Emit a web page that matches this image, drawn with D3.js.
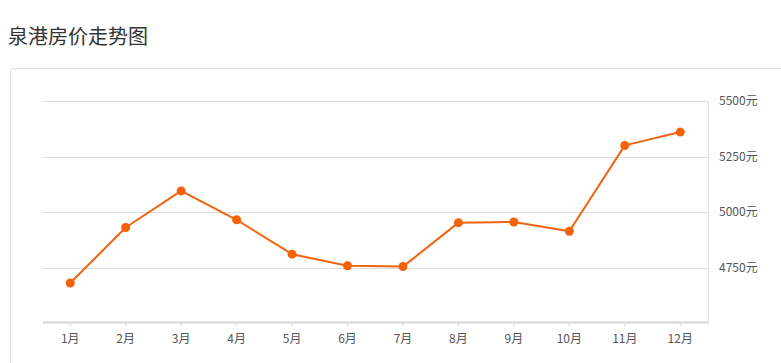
<!DOCTYPE html>
<html>
<head>
<meta charset="utf-8">
<script src="https://cdn.jsdelivr.net/npm/d3@7"></script>
<style>
  body { margin: 0; background: #fff; font-family: "Noto Sans CJK SC", "Noto Sans", sans-serif; }
  #title { position: absolute; left: 8px; top: 22px; font-size: 20px; color: #333; line-height: 28px; }
  #card { position: absolute; left: 10px; top: 68px; width: 790px; height: 320px;
          border: 1px solid #ddd; border-radius: 4px; box-sizing: border-box; }
  svg { position: absolute; left: 0; top: 0; }
</style>
</head>
<body>
<div id="title">泉港房价走势图</div>
<div id="card"></div>
<svg id="chart" width="781" height="363"></svg>
<script>
var months = ["1月","2月","3月","4月","5月","6月","7月","8月","9月","10月","11月","12月"]
var prices = [4680, 4930, 5095, 4965, 4810, 4758, 4754, 4952, 4955, 4913, 5300, 5360]
var yTicks = [4750, 5000, 5250, 5500]

var svg = d3.select("#chart")
var plotLeft = 42.5, plotRight = 708, plotTop = 101, plotBottom = 323

var x = d3.scaleBand().domain(months).range([plotLeft, plotRight])
var y = d3.scaleLinear().domain([4500, 5500]).range([plotBottom, plotTop])
var cx = d => x(d) + x.bandwidth() / 2

// grid lines
svg.append("g")
  .selectAll("line")
  .data(yTicks)
  .enter()
  .append("line")
  .attr("x1", plotLeft).attr("x2", plotRight)
  .attr("y1", d => Math.round(y(d)) + 0.5).attr("y2", d => Math.round(y(d)) + 0.5)
  .attr("stroke", "#ddd")

// right border
svg.append("line")
  .attr("x1", plotRight + 0.5).attr("x2", plotRight + 0.5)
  .attr("y1", Math.round(y(5500)) + 0.5).attr("y2", plotBottom)
  .attr("stroke", "#ddd")

// y labels
svg.append("g")
  .selectAll("text")
  .data(yTicks)
  .enter()
  .append("text")
  .attr("x", 719)
  .attr("y", d => y(d))
  .attr("dy", "0.35em")
  .attr("font-size", 12)
  .attr("fill", "#555")
  .text(d => d + "元")

// x axis
var xAxis = svg.append("g")
  .attr("transform", "translate(0," + (plotBottom - 1) + ")")
  .call(d3.axisBottom(x).tickSize(4).tickSizeOuter(0).tickPadding(8))
xAxis.select(".domain").attr("stroke", "#d6d6d6").attr("stroke-width", 2)
xAxis.selectAll(".tick line").attr("stroke", "#ddd")
xAxis.selectAll(".tick text")
  .attr("font-size", 12)
  .attr("fill", "#555")
  .attr("font-family", "'Noto Sans CJK SC', sans-serif")

// price line
var line = d3.line()
  .x((d, i) => cx(months[i]))
  .y(d => y(d))

svg.append("path")
  .datum(prices)
  .attr("fill", "none")
  .attr("stroke", "#f0630f")
  .attr("stroke-width", 2)
  .attr("stroke-linejoin", "round")
  .attr("d", line)

svg.append("g")
  .selectAll("circle")
  .data(prices)
  .enter()
  .append("circle")
  .attr("cx", (d, i) => cx(months[i]))
  .attr("cy", d => y(d))
  .attr("r", 4.5)
  .attr("fill", "#f5620a")
</script>
</body>
</html>
